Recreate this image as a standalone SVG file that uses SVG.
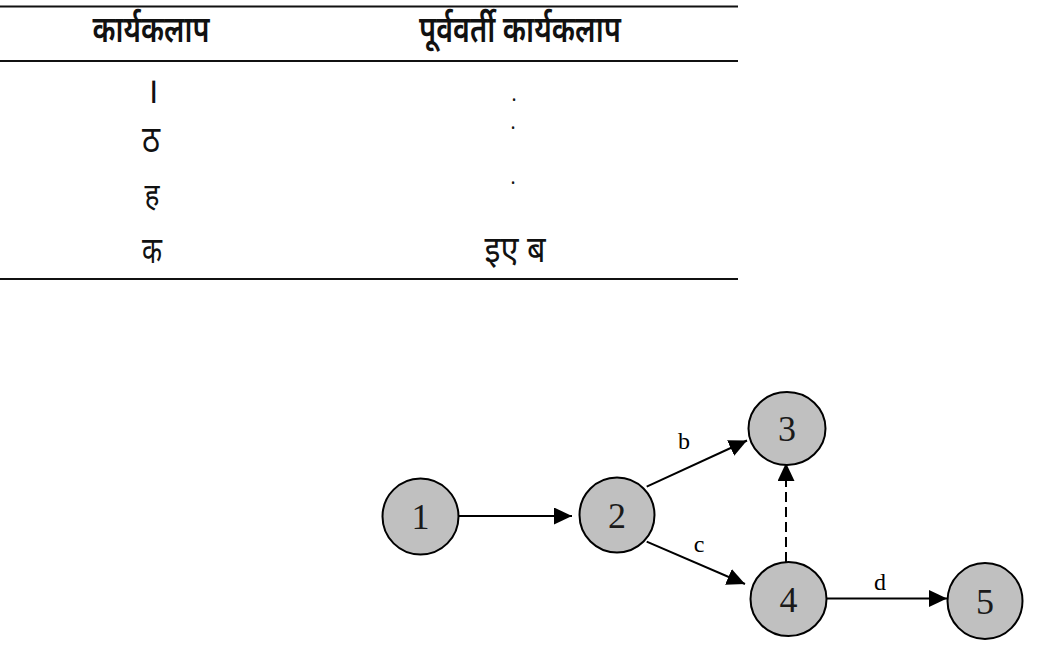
<svg xmlns="http://www.w3.org/2000/svg" width="1046" height="651" viewBox="0 0 1046 651">
<style>
.tl{stroke:#111;stroke-width:2;fill:none}
.dv{font-family:"Noto Sans Devanagari","Noto Sans","Lohit Devanagari",sans-serif;font-size:36px;fill:#111;text-anchor:middle}
.hd{font-size:37px;font-weight:600}
.dt{font-size:19px}
.nd{fill:#c0c0c0;stroke:#000;stroke-width:2}
.nt{font-family:"Liberation Serif","Times New Roman",serif;font-size:36px;fill:#1a1a1a;text-anchor:middle}
.el{font-family:"Liberation Serif","Times New Roman",serif;font-size:24px;fill:#000;text-anchor:middle}
.cn{stroke:#000;stroke-width:2;fill:none;marker-end:url(#ah)}
.ds{stroke-dasharray:10 5}
</style>
<defs>
<marker id="ah" markerUnits="userSpaceOnUse" markerWidth="18" markerHeight="17" refX="18" refY="8.5" orient="auto">
<path d="M0,0 L18,8.5 L0,17 z" fill="#000"/>
</marker>
</defs>
<g id="table">
<line class="tl" x1="0" y1="6.5" x2="738" y2="6.5"/>
<line class="tl" x1="0" y1="61" x2="738" y2="61"/>
<line class="tl" x1="0" y1="279" x2="738" y2="279"/>
<text class="dv hd" x="151" y="42" textLength="117" lengthAdjust="spacingAndGlyphs">कार्यकलाप</text>
<text class="dv hd" x="520" y="42" textLength="202" lengthAdjust="spacingAndGlyphs">पूर्ववर्ती कार्यकलाप</text>
<text class="dv" x="152" y="103">।</text>
<text class="dv" x="151" y="152" textLength="18" lengthAdjust="spacingAndGlyphs">ठ</text>
<text class="dv" x="152" y="206" style="font-size:32px" textLength="15" lengthAdjust="spacingAndGlyphs">ह</text>
<text class="dv" x="152" y="263" textLength="20" lengthAdjust="spacingAndGlyphs">क</text>
<text class="dv dt" x="514" y="101">.</text>
<text class="dv dt" x="513" y="129">.</text>
<text class="dv dt" x="513" y="184">.</text>
<text class="dv" x="515" y="262" textLength="61" lengthAdjust="spacingAndGlyphs">इए ब</text>
</g>
<g id="connectors">
<line class="cn" x1="459" y1="516" x2="572" y2="516"/>
<line class="cn" x1="646.7" y1="486.7" x2="747" y2="440.5"/>
<line class="cn" x1="646.7" y1="541.7" x2="745" y2="584"/>
<line class="cn ds" x1="786" y1="562" x2="786" y2="463"/>
<line class="cn" x1="826.7" y1="598.5" x2="947" y2="598.5"/>
<text class="el" x="684" y="449">b</text>
<text class="el" x="699" y="551.5">c</text>
<text class="el" x="880" y="590">d</text>
</g>
<g id="node1"><ellipse class="nd" cx="420.5" cy="516.5" rx="38" ry="38"/><text class="nt" x="420.5" y="529">1</text></g>
<g id="node2"><ellipse class="nd" cx="617" cy="515" rx="37.5" ry="37.5"/><text class="nt" x="617" y="527.5">2</text></g>
<g id="node3"><ellipse class="nd" cx="787" cy="428.5" rx="38.5" ry="36.5"/><text class="nt" x="787" y="441">3</text></g>
<g id="node4"><ellipse class="nd" cx="788.5" cy="599" rx="38" ry="37"/><text class="nt" x="788.5" y="611.5">4</text></g>
<g id="node5"><ellipse class="nd" cx="985" cy="601" rx="37.5" ry="38"/><text class="nt" x="985" y="613.5">5</text></g>
</svg>
